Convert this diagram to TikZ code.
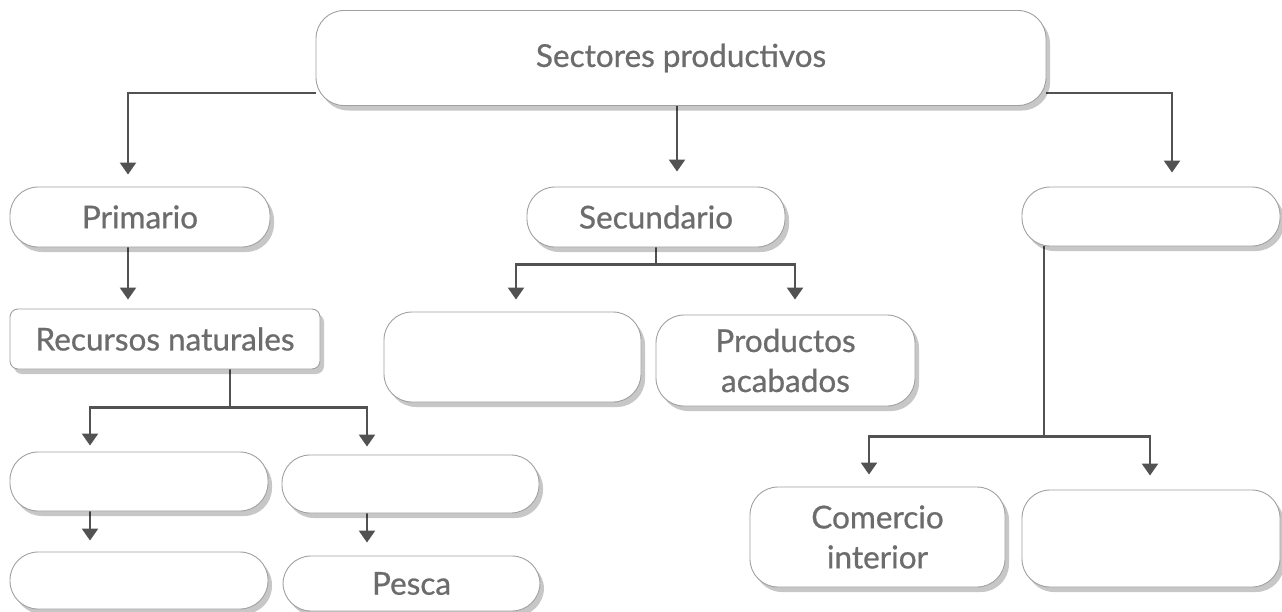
\documentclass[tikz,border=0pt]{standalone}
\usepackage{fontspec}
\setmainfont{Lato}
\newfontfamily\boxfont{Lato}[FakeBold=0.7]
\usetikzlibrary{arrows.meta,shadows}
\pgfdeclarelayer{bg}
\pgfsetlayers{bg,main}
\definecolor{txt}{RGB}{108,108,108}
\definecolor{ln}{RGB}{82,82,82}
\definecolor{bd}{RGB}{160,160,160}
\tikzset{
  box/.style={draw=bd, line width=0.9pt, fill=white, rounded corners=28pt,
    text=txt, font=\boxfont\fontsize{31.5}{40}\selectfont, align=center, inner sep=0pt,
    drop shadow={shadow xshift=4pt, shadow yshift=-5pt, opacity=0.22, fill=black}},
  conn/.style={draw=ln, line width=2.4pt},
  arr/.style={conn, -{Triangle[width=16pt,length=12pt]}},
}
\begin{document}
\begin{tikzpicture}[x=1pt,y=-1pt]
\useasboundingbox (0,0) rectangle (1282,611);
\node[box, minimum width=730pt, minimum height=95pt] (top) at (681,58) {Sectores productivos};
\node[box, minimum width=260pt, minimum height=60pt] (prim) at (140,217) {Primario};
\node[box, minimum width=258pt, minimum height=60pt] (sec) at (656,217) {Secundario};
\node[box, minimum width=258pt, minimum height=59pt] (ter) at (1151,216.5) {};
\node[box, rounded corners=8pt, minimum width=310pt, minimum height=60pt] (rec) at (165,339) {Recursos naturales};
\node[box, minimum width=257pt, minimum height=90pt] (secA) at (512.5,357) {};
\node[box, minimum width=259pt, minimum height=91pt] (secB) at (785.5,360.5) {Productos\\acabados};
\node[box, minimum width=258pt, minimum height=59pt] (r3a) at (139,481.5) {};
\node[box, minimum width=257pt, minimum height=58pt] (r3b) at (410.5,484) {};
\node[box, minimum width=258pt, minimum height=57pt] (r4a) at (139,580.5) {};
\node[box, minimum width=257pt, minimum height=55pt] (r4b) at (411.5,583.5) {Pesca};
\node[box, minimum width=255pt, minimum height=100pt] (com) at (877.5,537) {Comercio\\interior};
\node[box, minimum width=258pt, minimum height=97pt] (terB) at (1151,538.5) {};
\begin{pgfonlayer}{bg}
% top level
\draw[arr, shorten >=12pt] ([yshift=13pt]top.south west) -| ([xshift=-12pt]prim.north);
\draw[arr, shorten >=15pt] ([xshift=-4pt]top.south) -- ([xshift=-4pt]top.south |- sec.north);
\draw[arr, shorten >=14pt] ([yshift=13pt]top.south east) -| ([xshift=21pt]ter.north);
% primario
\draw[arr, shorten >=9pt] ([xshift=-12pt]prim.south) -- ([xshift=-12pt]prim.south |- rec.north);
% secundario
\coordinate (sj) at ([yshift=-17pt]sec.south);
\draw[conn] (sec.south) -- (sj);
\draw[arr, shorten >=12pt] (sj) -| ([xshift=3.5pt]secA.north);
\draw[arr, shorten >=15pt] (sj) -| ([xshift=9.5pt]secB.north);
% recursos
\coordinate (rj) at ([xshift=65pt,yshift=-38pt]rec.south);
\draw[conn] ([xshift=65pt]rec.south) -- (rj);
\draw[arr, shorten >=6pt] (rj) -| ([xshift=-49pt]r3a.north);
\draw[arr, shorten >=8pt] (rj) -| ([xshift=-43.5pt]r3b.north);
\draw[arr, shorten >=11pt] ([xshift=-49pt]r3a.south) -- ([xshift=-49pt]r3a.south |- r4a.north);
\draw[arr, shorten >=13pt] ([xshift=-43.5pt]r3b.south) -- ([xshift=-43.5pt]r3b.south |- r4b.north);
% terciario
\coordinate (tj) at ([xshift=-107pt,yshift=-190pt]ter.south);
\draw[conn] ([xshift=-107pt]ter.south) -- (tj);
\draw[arr, shorten >=12pt] (tj) -| ([xshift=-8.5pt]com.north);
\draw[arr, shorten >=14pt] (tj) -| ([xshift=-1pt]terB.north);
\end{pgfonlayer}
\end{tikzpicture}
\end{document}
